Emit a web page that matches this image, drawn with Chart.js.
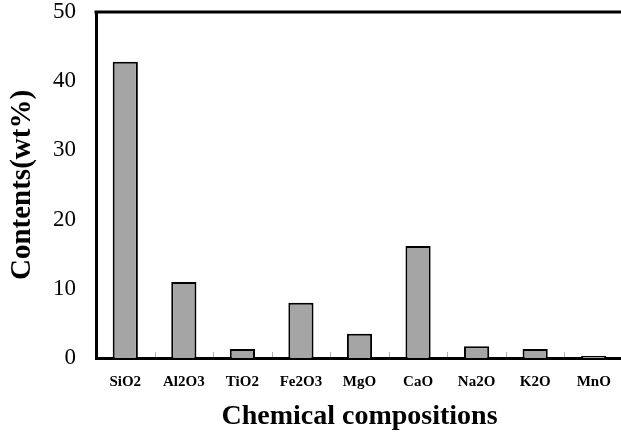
<!DOCTYPE html>
<html>
<head>
<meta charset="utf-8">
<script src="https://cdn.jsdelivr.net/npm/chart.js@4"></script>
<style>
  html, body { margin: 0; padding: 0; background: #fff; overflow: hidden; }
  #wrap { width: 625px; height: 438px; }
</style>
</head>
<body>
<div id="wrap"><canvas id="c" width="625" height="438"></canvas></div>
<script>
// Oxide composition (wt%)
const categories = ['SiO2', 'Al2O3', 'TiO2', 'Fe2O3', 'MgO', 'CaO', 'Na2O', 'K2O', 'MnO'];
const contents = [42.8, 11.0, 1.3, 8.0, 3.5, 16.2, 1.7, 1.3, 0.3];
const yTicks = [0, 10, 20, 30, 40, 50];

const serif = '"Liberation Serif", "Times New Roman", serif';

// Top frame line and short category separators on the x axis
const framePlugin = {
  id: 'frame',
  afterDraw(chart) {
    const { ctx, chartArea } = chart;
    const x = chart.scales.x;
    ctx.save();
    ctx.strokeStyle = '#000';
    ctx.lineWidth = 3;
    ctx.beginPath();
    ctx.moveTo(chartArea.left - 1.5, chartArea.top);
    ctx.lineTo(chartArea.right + 5, chartArea.top);
    ctx.stroke();
    ctx.strokeStyle = '#b0b0b0';
    ctx.lineWidth = 1;
    const half = (x.getPixelForValue(1) - x.getPixelForValue(0)) / 2;
    for (let i = 1; i < categories.length; i++) {
      const px = Math.round(x.getPixelForValue(i) - half) + 0.5;
      ctx.beginPath();
      ctx.moveTo(px, chartArea.bottom - 1);
      ctx.lineTo(px, chartArea.bottom - 6);
      ctx.stroke();
    }
    ctx.restore();
  }
};

new Chart(document.getElementById('c'), {
  type: 'bar',
  data: {
    labels: categories,
    datasets: [{
      data: contents,
      backgroundColor: '#a5a5a5',
      borderColor: '#000',
      borderWidth: 2,
      barPercentage: 0.43,
      categoryPercentage: 1.0
    }]
  },
  options: {
    responsive: false,
    animation: false,
    events: [],
    layout: { padding: { top: 12, right: 2, left: 0, bottom: 0 } },
    plugins: { legend: { display: false }, tooltip: { enabled: false } },
    scales: {
      x: {
        grid: { display: false, drawTicks: false },
        border: { color: '#000', width: 3 },
        ticks: {
          color: '#000',
          padding: 15,
          maxRotation: 0,
          font: { family: serif, size: 15, weight: 'bold' }
        },
        title: {
          display: true,
          text: 'Chemical compositions',
          color: '#000',
          padding: { top: 0, bottom: 4 },
          font: { family: serif, size: 28, weight: 'bold' }
        },
        afterFit(scale) { scale.height = 80; scale.paddingLeft = 0; scale.paddingRight = 0; }
      },
      y: {
        min: 0,
        max: 50,
        afterBuildTicks(scale) { scale.ticks = yTicks.map(v => ({ value: v })); },
        grid: { display: false, drawTicks: false },
        border: { color: '#000', width: 3 },
        ticks: {
          color: '#000',
          padding: 20,
          font: { family: serif, size: 23 }
        },
        title: {
          display: true,
          text: 'Contents(wt%)',
          color: '#000',
          padding: { top: 5, bottom: 0 },
          font: { family: serif, size: 29, weight: 'bold' }
        },
        afterFit(scale) { scale.width = 96; scale.paddingTop = 0; scale.paddingBottom = 0; }
      }
    }
  },
  plugins: [framePlugin]
});
</script>
</body>
</html>
